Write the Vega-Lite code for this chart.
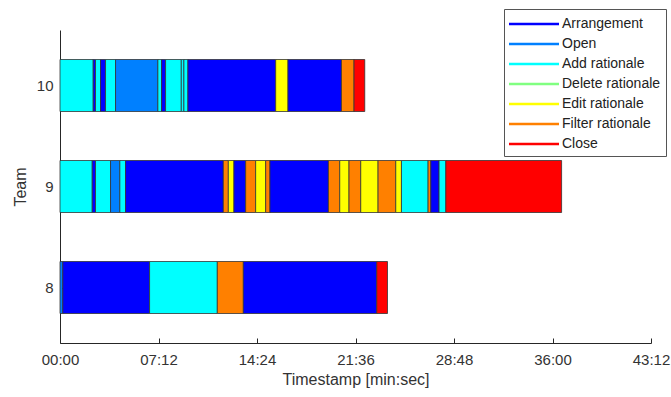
{
  "$schema": "https://vega.github.io/schema/vega-lite/v6.json",
  "autosize": "none",
  "width": 591,
  "height": 313,
  "padding": {"left": 60, "top": 30, "right": 20, "bottom": 54},
  "background": "white",
  "config": {
    "font": "Liberation Sans",
    "view": {"stroke": null},
    "axis": {"grid": false, "domainColor": "#262626", "tickColor": "#262626", "labelColor": "#333333", "titleColor": "#333333", "labelFont": "Liberation Sans", "titleFont": "Liberation Sans", "titleFontWeight": "normal"}
  },
  "data": {"values": [
    {"team": 10, "start": 0, "end": 145.7, "action": "Add rationale"},
    {"team": 10, "start": 145.7, "end": 155.8, "action": "Arrangement"},
    {"team": 10, "start": 155.8, "end": 177.8, "action": "Add rationale"},
    {"team": 10, "start": 177.8, "end": 199.7, "action": "Arrangement"},
    {"team": 10, "start": 199.7, "end": 243.6, "action": "Add rationale"},
    {"team": 10, "start": 243.6, "end": 429.3, "action": "Open"},
    {"team": 10, "start": 429.3, "end": 445.5, "action": "Add rationale"},
    {"team": 10, "start": 445.5, "end": 463.1, "action": "Arrangement"},
    {"team": 10, "start": 463.1, "end": 532.0, "action": "Add rationale"},
    {"team": 10, "start": 532.0, "end": 543.4, "action": "Add rationale"},
    {"team": 10, "start": 543.4, "end": 561.0, "action": "Add rationale"},
    {"team": 10, "start": 561.0, "end": 945.9, "action": "Arrangement"},
    {"team": 10, "start": 945.9, "end": 999.9, "action": "Edit rationale"},
    {"team": 10, "start": 999.9, "end": 1234.3, "action": "Arrangement"},
    {"team": 10, "start": 1234.3, "end": 1289.6, "action": "Filter rationale"},
    {"team": 10, "start": 1289.6, "end": 1336.6, "action": "Close"},
    {"team": 9, "start": 0, "end": 141.4, "action": "Add rationale"},
    {"team": 9, "start": 141.4, "end": 155.8, "action": "Arrangement"},
    {"team": 9, "start": 155.8, "end": 221.7, "action": "Add rationale"},
    {"team": 9, "start": 221.7, "end": 262.5, "action": "Open"},
    {"team": 9, "start": 262.5, "end": 287.5, "action": "Add rationale"},
    {"team": 9, "start": 287.5, "end": 716.3, "action": "Arrangement"},
    {"team": 9, "start": 716.3, "end": 738.3, "action": "Filter rationale"},
    {"team": 9, "start": 738.3, "end": 762.9, "action": "Edit rationale"},
    {"team": 9, "start": 762.9, "end": 814.2, "action": "Arrangement"},
    {"team": 9, "start": 814.2, "end": 858.1, "action": "Filter rationale"},
    {"team": 9, "start": 858.1, "end": 902.0, "action": "Edit rationale"},
    {"team": 9, "start": 902.0, "end": 920.8, "action": "Filter rationale"},
    {"team": 9, "start": 920.8, "end": 1177.2, "action": "Arrangement"},
    {"team": 9, "start": 1177.2, "end": 1226.9, "action": "Filter rationale"},
    {"team": 9, "start": 1226.9, "end": 1267.6, "action": "Edit rationale"},
    {"team": 9, "start": 1267.6, "end": 1319.0, "action": "Filter rationale"},
    {"team": 9, "start": 1319.0, "end": 1395.0, "action": "Edit rationale"},
    {"team": 9, "start": 1395.0, "end": 1472.6, "action": "Filter rationale"},
    {"team": 9, "start": 1472.6, "end": 1497.6, "action": "Edit rationale"},
    {"team": 9, "start": 1497.6, "end": 1614.4, "action": "Add rationale"},
    {"team": 9, "start": 1614.4, "end": 1626.3, "action": "Filter rationale"},
    {"team": 9, "start": 1626.3, "end": 1662.5, "action": "Arrangement"},
    {"team": 9, "start": 1662.5, "end": 1692.1, "action": "Add rationale"},
    {"team": 9, "start": 1692.1, "end": 2199.9, "action": "Close"},
    {"team": 8, "start": 0, "end": 12.3, "action": "Open"},
    {"team": 8, "start": 12.3, "end": 392.9, "action": "Arrangement"},
    {"team": 8, "start": 392.9, "end": 690.0, "action": "Add rationale"},
    {"team": 8, "start": 690.0, "end": 804.1, "action": "Filter rationale"},
    {"team": 8, "start": 804.1, "end": 1389.2, "action": "Arrangement"},
    {"team": 8, "start": 1389.2, "end": 1436.3, "action": "Close"}
  ]},
  "mark": {"type": "bar", "height": 52, "stroke": "#333333", "strokeWidth": 0.8, "opacity": 1},
  "encoding": {
    "x": {"field": "start", "type": "quantitative",
      "scale": {"domain": [0, 2592], "nice": false, "zero": false},
      "axis": {"values": [0, 432, 864, 1296, 1728, 2160, 2592], "title": "Timestamp [min:sec]",
        "labelExpr": "(floor(datum.value/60) < 10 ? '0' : '') + floor(datum.value/60) + ':' + ((datum.value % 60) < 10 ? '0' : '') + (datum.value % 60)",
        "labelFontSize": 15, "titleFontSize": 16, "tickSize": -5, "labelPadding": 14, "titlePadding": 4, "labelFlush": false}},
    "x2": {"field": "end"},
    "y": {"field": "team", "type": "quantitative",
      "scale": {"domain": [7.5, 10.5], "nice": false, "zero": false},
      "axis": {"values": [8, 9, 10], "title": "Team", "labelFontSize": 15, "titleFontSize": 16, "tickSize": -5, "labelPadding": 12, "titlePadding": 8}},
    "color": {"field": "action", "type": "nominal",
      "scale": {"domain": ["Arrangement", "Open", "Add rationale", "Delete rationale", "Edit rationale", "Filter rationale", "Close"],
        "range": ["#0000FF", "#0080FF", "#00FFFF", "#80FF80", "#FFFF00", "#FF8000", "#FF0000"]},
      "legend": {"title": null, "orient": "none", "legendX": 444, "legendY": -21,
        "padding": 5, "strokeColor": "#555555", "fillColor": "white",
        "symbolType": "M-1,-0.13H4V0.13H-1Z", "symbolSize": 400, "symbolStrokeWidth": 0, "symbolStrokeColor": "transparent",
        "labelOffset": 33, "labelFontSize": 14, "labelColor": "#222222", "rowPadding": 3}}
  }
}
